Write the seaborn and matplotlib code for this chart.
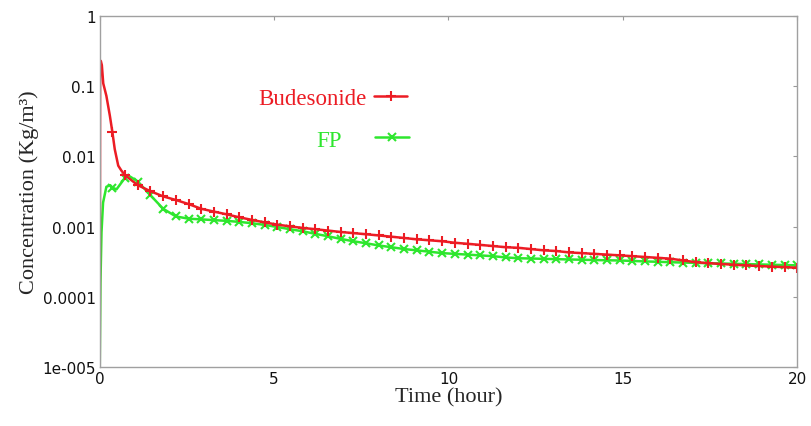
import numpy as np
import pandas as pd
import matplotlib
matplotlib.use("Agg")
import matplotlib.pyplot as plt
import seaborn as sns

# marker grid of the simulation output (every 20/55 h)
marker_times = np.linspace(0, 20, 56)[1:]

# Budesonide: early peak detail + values at marker times
bud_early_t = [0.0, 0.01, 0.03, 0.06, 0.1, 0.19, 0.29]
bud_early_c = [1e-5, 0.15, 0.23, 0.2, 0.11, 0.073, 0.038]
bud_marker_c = [
    0.022, 0.0054, 0.0039, 0.0032, 0.0027, 0.0024, 0.0021, 0.0018, 0.00164, 0.0015,
    0.00136, 0.00125, 0.00115, 0.00107, 0.00101, 0.00096, 0.00092, 0.00088, 0.00084, 0.00081,
    0.00078, 0.00075, 0.00072, 0.00069, 0.00066, 0.00064, 0.00062, 0.00059, 0.00057, 0.00055,
    0.00053, 0.00051, 0.0005, 0.00048, 0.00046, 0.00045, 0.00043, 0.00042, 0.00041, 0.0004,
    0.00039, 0.00038, 0.00037, 0.00036, 0.00035, 0.00033, 0.000312, 0.000302, 0.000294, 0.000287,
    0.00028, 0.000275, 0.00027, 0.000265, 0.00026,
]
bud_mid_t = [0.43, 0.53, 0.62]
bud_mid_c = [0.0127, 0.0074, 0.0063]

# FP: steep rise, small dip, second peak, then slow decay
fp_early_t = [0.0, 0.02, 0.05, 0.095, 0.19, 0.3]
fp_early_c = [1e-5, 0.00016, 0.00083, 0.0022, 0.0037, 0.0039]
fp_marker_c = [
    0.0036, 0.0050, 0.0044, 0.0028, 0.0018, 0.0014, 0.0013, 0.00127, 0.00124, 0.00121,
    0.00117, 0.00112, 0.00106, 0.00099, 0.00092, 0.00086, 0.00079, 0.00073, 0.00067, 0.00062,
    0.00058, 0.00054, 0.00051, 0.00048, 0.00046, 0.00044, 0.00042, 0.00041, 0.0004, 0.00039,
    0.00038, 0.000365, 0.000355, 0.000352, 0.000348, 0.000345, 0.000341, 0.000338, 0.000335, 0.000332,
    0.00033, 0.000325, 0.00032, 0.000316, 0.000312, 0.000308, 0.000305, 0.000302, 0.000299, 0.000296,
    0.000293, 0.00029, 0.000287, 0.000284, 0.000281,
]
fp_mid_t = [0.48, 0.6, 0.81]
fp_mid_c = [0.0034, 0.0041, 0.0054]

x_ticks = [0, 5, 10, 15, 20]
y_ticks = [1e-5, 1e-4, 1e-3, 1e-2, 1e-1, 1]
y_tick_labels = ["1e-005", "0.0001", "0.001", "0.01", "0.1", "1"]

RED = "#ec1c24"
GREEN = "#2ee62e"


def build(early_t, early_c, mid_t, mid_c, marker_c):
    df = pd.DataFrame({
        "t": list(early_t) + list(mid_t) + list(marker_times),
        "c": list(early_c) + list(mid_c) + list(marker_c),
        "m": [False] * (len(early_t) + len(mid_t)) + [True] * len(marker_times),
    })
    df = df.sort_values("t").reset_index(drop=True)
    return df


bud = build(bud_early_t, bud_early_c, bud_mid_t, bud_mid_c, bud_marker_c)
fp = build(fp_early_t, fp_early_c, fp_mid_t, fp_mid_c, fp_marker_c)

sns.set_style("white")
fig = plt.figure(figsize=(8.11, 4.27), dpi=100)
ax = fig.add_axes([0.123, 0.138, 0.860, 0.822])

sns.lineplot(data=fp, x="t", y="c", ax=ax, color=GREEN, lw=1.8, marker="x",
             markersize=5.5, markeredgewidth=1.5, markeredgecolor=GREEN,
             markevery=list(fp.index[fp["m"]]), sort=False, estimator=None)
sns.lineplot(data=bud, x="t", y="c", ax=ax, color=RED, lw=1.8, marker="+",
             markersize=6.5, markeredgewidth=1.5, markeredgecolor=RED,
             markevery=list(bud.index[bud["m"]]), sort=False, estimator=None)

ax.set_yscale("log")
ax.set_xlim(0, 20)
ax.set_ylim(1e-5, 1)
ax.set_xticks(x_ticks)
ax.set_xticklabels([str(v) for v in x_ticks])
ax.set_yticks(y_ticks)
ax.set_yticklabels(y_tick_labels)
ax.minorticks_off()
ax.tick_params(direction="in", length=3, width=0.8, color="#999999",
               labelsize=11, top=True, right=True, pad=3)
for lab in ax.get_xticklabels() + ax.get_yticklabels():
    lab.set_color("#111111")
for sp in ax.spines.values():
    sp.set_color("#a0a0a0")
    sp.set_linewidth(1.0)

serif = ["Liberation Serif", "DejaVu Serif"]
ax.set_xlabel("Time (hour)", fontsize=16, family=serif, labelpad=1)
ax.set_ylabel("Concentration (Kg/m³)", fontsize=16, family=serif, labelpad=2)

# two single-entry legends, placed like the original annotations
h_bud = plt.Line2D([], [], color=RED, lw=1.8, marker="+", markersize=6.5, markeredgewidth=1.5)
h_fp = plt.Line2D([], [], color=GREEN, lw=1.8, marker="x", markersize=5.5, markeredgewidth=1.5)
leg1 = ax.legend([h_bud], ["Budesonide"], loc="center left", bbox_to_anchor=(0.2267, 0.766),
                 frameon=False, markerfirst=False, handlelength=1.45, handletextpad=0.35,
                 borderpad=0, borderaxespad=0, labelcolor=RED, prop={"family": serif, "size": 16.5})
ax.add_artist(leg1)
ax.legend([h_fp], ["FP"], loc="center left", bbox_to_anchor=(0.311, 0.647),
          frameon=False, markerfirst=False, handlelength=1.45, handletextpad=1.45,
          borderpad=0, borderaxespad=0, labelcolor=GREEN, prop={"family": serif, "size": 16.5})

fig.savefig("out.png", dpi=100)
